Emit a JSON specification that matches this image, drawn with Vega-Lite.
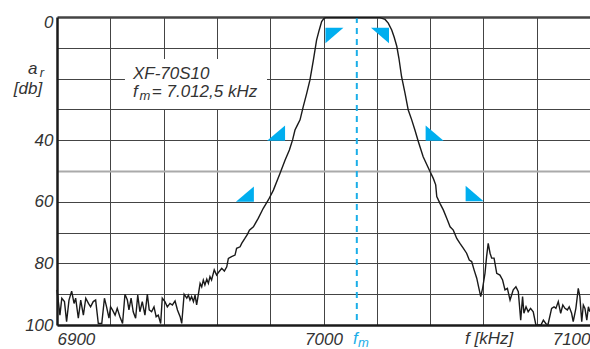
{
  "$schema": "https://vega.github.io/schema/vega-lite/v6.json",
  "width": 533,
  "height": 308,
  "autosize": {"type": "none"},
  "padding": {"left": 57, "top": 17, "right": 0, "bottom": 24},
  "background": "white",
  "config": {
    "view": {"stroke": null},
    "axis": {
      "labelFont": "Liberation Sans, sans-serif",
      "labelFontSize": 17,
      "labelFontStyle": "italic",
      "labelColor": "#333333",
      "ticks": false,
      "tickSize": 0,
      "domainColor": "#1a1a1a",
      "domainWidth": 2.5,
      "grid": true,
      "gridColor": "#444444",
      "gridOpacity": 1,
      "title": null,
      "labelOverlap": false
    }
  },
  "datasets": {
    "curve": [
      {"f":6900.0,"db":88.6},{"f":6900.5,"db":92.4},{"f":6901.1,"db":96.8},{"f":6901.8,"db":91.3},{"f":6902.8,"db":92.4},
      {"f":6903.6,"db":98.9},{"f":6904.5,"db":91.9},{"f":6905.5,"db":89.0},{"f":6906.4,"db":93.0},{"f":6907.0,"db":91.3},
      {"f":6908.0,"db":97.8},{"f":6908.9,"db":91.9},{"f":6909.9,"db":96.8},{"f":6910.8,"db":91.3},{"f":6911.8,"db":93.0},
      {"f":6912.6,"db":94.1},{"f":6913.6,"db":92.4},{"f":6914.5,"db":91.9},{"f":6915.5,"db":99.5},{"f":6916.8,"db":99.5},
      {"f":6917.8,"db":91.3},{"f":6918.6,"db":94.1},{"f":6919.5,"db":97.8},{"f":6920.1,"db":94.1},{"f":6920.8,"db":95.1},
      {"f":6921.8,"db":96.8},{"f":6922.6,"db":94.6},{"f":6923.6,"db":97.3},{"f":6924.6,"db":99.5},{"f":6925.5,"db":90.0},
      {"f":6926.4,"db":91.9},{"f":6927.0,"db":95.1},{"f":6927.8,"db":91.3},{"f":6928.6,"db":95.7},{"f":6929.5,"db":97.8},
      {"f":6930.3,"db":90.3},{"f":6931.1,"db":95.7},{"f":6932.0,"db":92.4},{"f":6933.0,"db":96.8},{"f":6933.9,"db":90.0},
      {"f":6934.6,"db":95.1},{"f":6935.5,"db":95.7},{"f":6936.4,"db":94.1},{"f":6937.2,"db":97.3},{"f":6938.0,"db":96.8},
      {"f":6938.9,"db":99.5},{"f":6939.5,"db":91.3},{"f":6940.5,"db":92.4},{"f":6941.4,"db":94.1},{"f":6942.4,"db":93.0},
      {"f":6943.3,"db":93.5},{"f":6944.3,"db":92.2},{"f":6945.2,"db":95.1},{"f":6946.2,"db":97.3},{"f":6946.8,"db":99.5},
      {"f":6947.7,"db":90.0},{"f":6948.7,"db":91.3},{"f":6949.3,"db":90.3},{"f":6949.9,"db":91.9},{"f":6950.5,"db":90.8},
      {"f":6951.2,"db":92.4},{"f":6951.8,"db":90.3},{"f":6952.4,"db":93.5},{"f":6953.0,"db":90.3},{"f":6953.7,"db":86.5},
      {"f":6954.3,"db":87.6},{"f":6954.9,"db":85.4},{"f":6955.5,"db":87.0},{"f":6956.2,"db":85.1},{"f":6956.8,"db":86.5},
      {"f":6957.4,"db":84.3},{"f":6958.0,"db":85.4},{"f":6959.0,"db":82.1},{"f":6959.9,"db":83.8},{"f":6960.8,"db":82.7},
      {"f":6961.8,"db":81.6},{"f":6962.8,"db":82.5},{"f":6963.7,"db":81.1},{"f":6964.3,"db":78.4},{"f":6965.5,"db":77.8},
      {"f":6966.8,"db":77.3},{"f":6967.4,"db":75.1},{"f":6968.7,"db":74.6},{"f":6969.3,"db":73.5},{"f":6970.5,"db":71.9},
      {"f":6971.5,"db":70.5},{"f":6972.2,"db":69.2},{"f":6973.7,"db":68.1},{"f":6975.5,"db":65.4},{"f":6977.4,"db":62.1},
      {"f":6979.3,"db":59.4},{"f":6981.2,"db":56.2},{"f":6983.7,"db":50.7},{"f":6985.6,"db":46.4},{"f":6987.2,"db":43.2},
      {"f":6988.4,"db":39.9},{"f":6989.3,"db":36.7},{"f":6990.2,"db":35.1},{"f":6991.2,"db":33.4},{"f":6992.4,"db":29.1},
      {"f":6993.7,"db":24.8},{"f":6994.9,"db":20.5},{"f":6996.2,"db":14.0},{"f":6997.4,"db":7.5},{"f":6998.4,"db":4.2},
      {"f":6999.3,"db":1.5},{"f":7000.2,"db":0.4},{"f":7000.9,"db":0.2},{"f":7021.2,"db":0.2},{"f":7023.1,"db":0.8},
      {"f":7024.3,"db":2.0},{"f":7025.6,"db":4.2},{"f":7026.5,"db":6.5},{"f":7027.5,"db":9.5},{"f":7028.3,"db":13.4},
      {"f":7029.3,"db":19.4},{"f":7030.6,"db":24.8},{"f":7031.8,"db":30.2},{"f":7033.1,"db":33.4},{"f":7034.3,"db":36.7},
      {"f":7035.6,"db":40.5},{"f":7037.4,"db":45.4},{"f":7039.7,"db":49.7},{"f":7041.2,"db":52.4},{"f":7042.1,"db":54.5},
      {"f":7042.5,"db":58.3},{"f":7043.7,"db":60.5},{"f":7045.0,"db":62.7},{"f":7046.5,"db":65.9},{"f":7047.5,"db":68.1},
      {"f":7048.7,"db":69.2},{"f":7050.0,"db":71.9},{"f":7051.2,"db":73.5},{"f":7052.5,"db":75.1},{"f":7053.7,"db":76.7},
      {"f":7054.7,"db":78.9},{"f":7055.6,"db":79.4},{"f":7056.5,"db":82.1},{"f":7057.5,"db":84.8},{"f":7058.2,"db":87.6},
      {"f":7059.0,"db":90.8},{"f":7059.7,"db":88.1},{"f":7060.6,"db":83.2},{"f":7061.2,"db":77.8},{"f":7061.8,"db":73.5},
      {"f":7062.5,"db":76.7},{"f":7063.1,"db":78.3},{"f":7064.0,"db":78.3},{"f":7065.0,"db":83.2},{"f":7066.2,"db":83.8},
      {"f":7067.2,"db":85.4},{"f":7068.1,"db":88.6},{"f":7069.0,"db":88.1},{"f":7070.0,"db":91.9},{"f":7071.2,"db":88.6},
      {"f":7072.2,"db":87.6},{"f":7073.1,"db":89.2},{"f":7074.0,"db":98.4},{"f":7074.7,"db":90.8},{"f":7075.2,"db":96.2},
      {"f":7076.0,"db":94.1},{"f":7076.8,"db":95.7},{"f":7077.7,"db":94.6},{"f":7078.7,"db":95.7},{"f":7079.7,"db":100},
      {"f":7081.6,"db":100},{"f":7082.5,"db":98.4},{"f":7083.4,"db":99.5},{"f":7084.2,"db":100},{"f":7085.6,"db":94.6},
      {"f":7086.5,"db":94.1},{"f":7087.2,"db":94.6},{"f":7088.1,"db":92.4},{"f":7089.0,"db":96.2},{"f":7089.8,"db":93.5},
      {"f":7090.6,"db":94.6},{"f":7091.5,"db":95.1},{"f":7092.2,"db":94.1},{"f":7093.1,"db":96.2},{"f":7093.7,"db":98.9},
      {"f":7094.7,"db":94.6},{"f":7095.6,"db":88.1},{"f":7096.2,"db":90.8},{"f":7096.9,"db":98.9},{"f":7097.5,"db":93.5},
      {"f":7098.1,"db":94.6},{"f":7098.8,"db":98.4},{"f":7099.4,"db":94.1},{"f":7100.0,"db":95.7}
    ],
    "markers": [
      {"f":7004.1,"db":6.0,"edge":"pass-low"},
      {"f":7021.2,"db":6.0,"edge":"pass-high"},
      {"f":6982.2,"db":37.7,"edge":"skirt-low"},
      {"f":6970.5,"db":57.5,"edge":"skirt-low"},
      {"f":7041.7,"db":37.7,"edge":"skirt-high"},
      {"f":7056.7,"db":57.3,"edge":"skirt-high"}
    ],
    "centre": [{"f":7012.5,"db":0,"db2":99}],
    "box": [{"f":6925.5,"f2":6978.8,"db":13.6,"db2":29.9}],
    "textMain": [
      {"f":6928.5,"db":20.2,"t":"XF-70S10"},
      {"f":6928.5,"db":26.1,"t":"f"},
      {"f":6935.6,"db":26.1,"t":"= 7.012,5 kHz"},
      {"f":6889.1,"db":18.6,"t":"a"},
      {"f":6883.8,"db":24.9,"t":"[db]"},
      {"f":7053.1,"db":106.2,"t":"f [kHz]"}
    ],
    "textSub": [
      {"f":6931.0,"db":27.1,"t":"m"},
      {"f":6893.5,"db":19.6,"t":"r"}
    ],
    "cyanMain": [{"f":7011.1,"db":106.2,"t":"f"}],
    "cyanSub": [{"f":7012.9,"db":107.2,"t":"m"}]
  },
  "encoding": {
    "x": {
      "field": "f", "type": "quantitative",
      "scale": {"domain": [6900, 7100], "nice": false, "zero": false},
      "axis": {
        "values": [6900,6920,6940,6960,6980,7000,7020,7040,7060,7080,7100],
        "format": "d",
        "labelExpr": "datum.value == 6900 || datum.value == 7000 || datum.value == 7100 ? datum.label : ''",
        "labelFlush": true,
        "labelPadding": 6,
        "gridWidth": {"condition": {"test": "datum.value == 6900 || datum.value == 7100", "value": 0}, "value": 1}
      }
    },
    "y": {
      "field": "db", "type": "quantitative",
      "scale": {"domain": [0, 100], "reverse": true, "nice": false, "zero": false},
      "axis": {
        "values": [0,10,20,30,40,50,60,70,80,90,100],
        "labelExpr": "datum.value == 0 || datum.value == 40 || datum.value == 60 || datum.value == 80 || datum.value == 100 ? datum.label : ''",
        "labelPadding": 4,
        "labelBaseline": "middle",
        "labelOffset": {"condition": {"test": "datum.value == 0", "value": 5}, "value": 0},
        "gridColor": {"condition": {"test": "datum.value == 50", "value": "#aaaaaa"}, "value": "#444444"},
        "gridWidth": {"condition": [{"test": "datum.value == 50", "value": 2}, {"test": "datum.value == 0", "value": 2.5}], "value": 1}
      }
    }
  },
  "layer": [
    {
      "data": {"name": "box"},
      "mark": {"type": "rect", "fill": "white", "stroke": null},
      "encoding": {"x2": {"field": "f2"}, "y2": {"field": "db2"}}
    },
    {
      "data": {"name": "centre"},
      "mark": {"type": "rule", "color": "#1aaee8", "strokeWidth": 2, "strokeDash": [6, 5]},
      "encoding": {"y2": {"field": "db2"}}
    },
    {
      "data": {"name": "curve"},
      "mark": {"type": "line", "color": "#1a1a1a", "strokeWidth": 1.4},
      "encoding": {}
    },
    {
      "data": {"name": "markers"},
      "mark": {"type": "point", "filled": true, "opacity": 1, "size": 324, "color": "#00aeef", "strokeWidth": 0},
      "encoding": {
        "shape": {
          "field": "edge", "type": "nominal", "legend": null,
          "scale": {
            "domain": ["pass-low", "pass-high", "skirt-low", "skirt-high"],
            "range": ["M-1,-0.85L1,-0.85L-1,0.85Z", "M-1,-0.85L1,-0.85L1,0.85Z", "M-1,0.85L1,0.85L1,-0.85Z", "M-1,-0.85L-1,0.85L1,0.85Z"]
          }
        }
      }
    },
    {
      "data": {"name": "textMain"},
      "mark": {"type": "text", "align": "left", "baseline": "alphabetic", "font": "Liberation Sans, sans-serif", "fontSize": 17, "fontStyle": "italic", "color": "#333333"},
      "encoding": {"text": {"field": "t"}}
    },
    {
      "data": {"name": "textSub"},
      "mark": {"type": "text", "align": "left", "baseline": "alphabetic", "font": "Liberation Sans, sans-serif", "fontSize": 13, "fontStyle": "italic", "color": "#333333"},
      "encoding": {"text": {"field": "t"}}
    },
    {
      "data": {"name": "cyanMain"},
      "mark": {"type": "text", "align": "left", "baseline": "alphabetic", "font": "Liberation Sans, sans-serif", "fontSize": 17, "fontStyle": "italic", "color": "#1aaee8"},
      "encoding": {"text": {"field": "t"}}
    },
    {
      "data": {"name": "cyanSub"},
      "mark": {"type": "text", "align": "left", "baseline": "alphabetic", "font": "Liberation Sans, sans-serif", "fontSize": 13, "fontStyle": "italic", "color": "#1aaee8"},
      "encoding": {"text": {"field": "t"}}
    }
  ]
}
